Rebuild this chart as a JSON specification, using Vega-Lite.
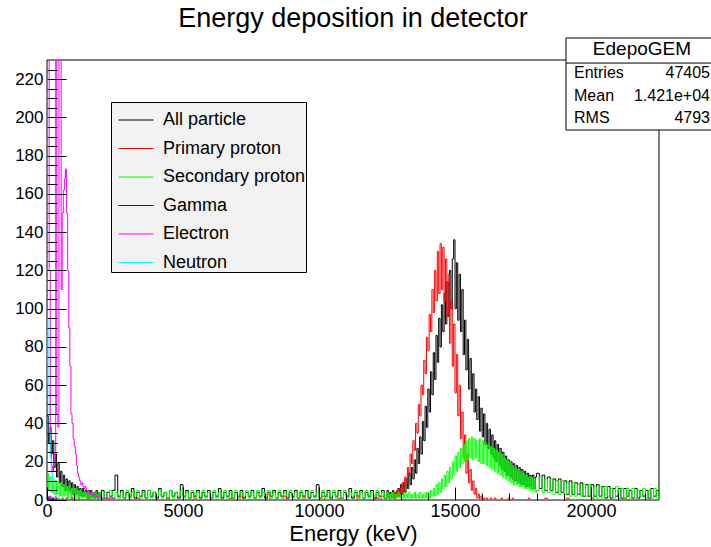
{
"$schema":"https://vega.github.io/schema/vega-lite/v6.json",
"width":612,"height":440,
"autosize":{"type":"none"},
"padding":{"left":47,"top":60,"right":52,"bottom":47},
"background":"white",
"config":{"view":{"stroke":null},"font":"Liberation Sans"},
"title":{"text":"Energy deposition in detector","fontSize":27,"fontWeight":"normal","color":"black","anchor":"middle","frame":"group","baseline":"alphabetic","offset":-16},
"resolve":{"axis":{"x":"independent","y":"independent"}},
"layer":[
{
"data":{"values":[{}]},
"mark":{"type":"rect","fill":null,"stroke":"black","strokeWidth":1},
"encoding":{"x":{"datum":0,"axis":null,"scale":{"domain":[0,22500],"nice":false,"zero":false}},"x2":{"datum":22500},"y":{"datum":0,"axis":null,"scale":{"domain":[0,230],"nice":false,"zero":false}},"y2":{"datum":230}}
},
{
"data":{"values":[
{"x":0,"a":44,"b":1,"c":14},{"x":50,"a":30,"b":0,"c":5},{"x":100,"a":38,"b":2,"c":12},{"x":150,"a":24,"b":0,"c":4},{"x":200,"a":31,"b":1,"c":11},{"x":250,"a":17,"b":0,"c":3},{"x":300,"a":24,"b":2,"c":10},{"x":350,"a":12,"b":0,"c":3},{"x":400,"a":19,"b":1,"c":9},{"x":450,"a":9,"b":0,"c":2},{"x":500,"a":15,"b":0,"c":9},{"x":550,"a":7,"b":1,"c":2},{"x":600,"a":13,"b":0,"c":8},{"x":650,"a":5,"b":0,"c":2},{"x":700,"a":11,"b":1,"c":7},{"x":750,"a":5,"b":0,"c":1},{"x":800,"a":10,"b":0,"c":7},{"x":850,"a":4,"b":0,"c":1},{"x":900,"a":9,"b":1,"c":6},{"x":950,"a":3,"b":0,"c":1},{"x":1000,"a":8,"b":0,"c":6},{"x":1050,"a":3,"b":0,"c":1},{"x":1100,"a":7,"b":0,"c":5},{"x":1150,"a":2,"b":1,"c":1},{"x":1200,"a":6,"b":0,"c":5},{"x":1250,"a":2,"b":0,"c":1},{"x":1300,"a":6,"b":0,"c":4},{"x":1350,"a":2,"b":0,"c":1},{"x":1400,"a":5,"b":0,"c":4},{"x":1450,"a":1,"b":0,"c":1},{"x":1500,"a":5,"b":1,"c":4},{"x":1550,"a":1,"b":0,"c":0},{"x":1600,"a":5,"b":0,"c":3},{"x":1650,"a":1,"b":0,"c":1},{"x":1700,"a":4,"b":0,"c":4},{"x":1750,"a":1,"b":0,"c":0},{"x":1800,"a":5,"b":0,"c":3},{"x":1850,"a":1,"b":0,"c":1},{"x":1900,"a":4,"b":0,"c":4},{"x":1950,"a":2,"b":0,"c":1},
{"x":2000,"a":5,"b":0,"c":1},{"x":2100,"a":1,"b":0,"c":4},{"x":2200,"a":4,"b":0,"c":1},{"x":2300,"a":2,"b":1,"c":5},{"x":2400,"a":5,"b":0,"c":1},{"x":2500,"a":13,"b":0,"c":4},{"x":2600,"a":2,"b":0,"c":1},{"x":2700,"a":5,"b":0,"c":4},{"x":2800,"a":1,"b":0,"c":1},{"x":2900,"a":4,"b":0,"c":5},{"x":3000,"a":2,"b":0,"c":1},{"x":3100,"a":6,"b":0,"c":4},{"x":3200,"a":1,"b":0,"c":2},{"x":3300,"a":4,"b":1,"c":5},{"x":3400,"a":2,"b":0,"c":1},{"x":3500,"a":5,"b":0,"c":4},{"x":3600,"a":1,"b":0,"c":1},{"x":3700,"a":5,"b":0,"c":5},{"x":3800,"a":2,"b":0,"c":1},{"x":3900,"a":4,"b":0,"c":4},{"x":4000,"a":1,"b":0,"c":2},{"x":4100,"a":6,"b":0,"c":5},{"x":4200,"a":2,"b":0,"c":1},{"x":4300,"a":4,"b":0,"c":4},{"x":4400,"a":1,"b":1,"c":1},{"x":4500,"a":5,"b":0,"c":5},{"x":4600,"a":2,"b":0,"c":1},{"x":4700,"a":4,"b":0,"c":4},{"x":4800,"a":1,"b":0,"c":2},{"x":4900,"a":8,"b":0,"c":5},{"x":5000,"a":2,"b":0,"c":1},{"x":5100,"a":5,"b":0,"c":4},{"x":5200,"a":1,"b":0,"c":1},{"x":5300,"a":4,"b":0,"c":5},{"x":5400,"a":2,"b":2,"c":1},{"x":5500,"a":5,"b":0,"c":4},{"x":5600,"a":1,"b":0,"c":2},{"x":5700,"a":4,"b":0,"c":5},{"x":5800,"a":2,"b":0,"c":1},{"x":5900,"a":5,"b":0,"c":4},{"x":6000,"a":1,"b":0,"c":1},{"x":6100,"a":4,"b":0,"c":5},{"x":6200,"a":2,"b":0,"c":1},{"x":6300,"a":6,"b":0,"c":4},{"x":6400,"a":1,"b":0,"c":2},{"x":6500,"a":4,"b":0,"c":5},{"x":6600,"a":2,"b":0,"c":1},{"x":6700,"a":5,"b":1,"c":4},{"x":6800,"a":1,"b":0,"c":1},{"x":6900,"a":4,"b":0,"c":5},{"x":7000,"a":2,"b":0,"c":1},{"x":7100,"a":5,"b":2,"c":4},{"x":7200,"a":1,"b":0,"c":2},{"x":7300,"a":4,"b":0,"c":5},{"x":7400,"a":2,"b":0,"c":1},{"x":7500,"a":5,"b":0,"c":4},{"x":7600,"a":1,"b":0,"c":1},{"x":7700,"a":4,"b":0,"c":5},{"x":7800,"a":2,"b":0,"c":1},{"x":7900,"a":6,"b":0,"c":4},{"x":8000,"a":1,"b":0,"c":2},{"x":8100,"a":4,"b":3,"c":5},{"x":8200,"a":2,"b":0,"c":1},{"x":8300,"a":5,"b":0,"c":4},{"x":8400,"a":1,"b":0,"c":1},{"x":8500,"a":4,"b":0,"c":5},{"x":8600,"a":2,"b":0,"c":1},{"x":8700,"a":5,"b":2,"c":4},{"x":8800,"a":1,"b":0,"c":2},{"x":8900,"a":4,"b":0,"c":5},{"x":9000,"a":2,"b":0,"c":1},{"x":9100,"a":5,"b":0,"c":4},{"x":9200,"a":1,"b":0,"c":1},{"x":9300,"a":4,"b":0,"c":5},{"x":9400,"a":2,"b":2,"c":1},{"x":9500,"a":5,"b":0,"c":4},{"x":9600,"a":1,"b":0,"c":2},{"x":9700,"a":4,"b":0,"c":5},{"x":9800,"a":2,"b":0,"c":1},{"x":9900,"a":8,"b":0,"c":4},{"x":10000,"a":1,"b":0,"c":1},{"x":10100,"a":4,"b":2,"c":5},{"x":10200,"a":2,"b":0,"c":1},{"x":10300,"a":5,"b":0,"c":4},{"x":10400,"a":1,"b":0,"c":2},{"x":10500,"a":4,"b":0,"c":5},{"x":10600,"a":2,"b":0,"c":1},{"x":10700,"a":5,"b":1,"c":4},{"x":10800,"a":1,"b":0,"c":1},{"x":10900,"a":4,"b":0,"c":5},{"x":11000,"a":2,"b":0,"c":1},{"x":11100,"a":6,"b":0,"c":4},{"x":11200,"a":1,"b":0,"c":2},{"x":11300,"a":4,"b":0,"c":5},{"x":11400,"a":2,"b":2,"c":1},{"x":11500,"a":5,"b":0,"c":4},{"x":11600,"a":1,"b":0,"c":1},{"x":11700,"a":4,"b":0,"c":5},{"x":11800,"a":2,"b":0,"c":1},{"x":11900,"a":5,"b":0,"c":4},{"x":12000,"a":1,"b":0,"c":2},{"x":12100,"a":4,"b":1,"c":5},{"x":12200,"a":2,"b":0,"c":1},{"x":12300,"a":5,"b":2,"c":4},{"x":12400,"a":1,"b":0,"c":1},
{"x":12500,"a":5,"b":0,"c":4},{"x":12550,"a":1,"b":2,"c":0},{"x":12600,"a":4,"b":0,"c":3},{"x":12650,"a":2,"b":3,"c":1},{"x":12700,"a":5,"b":1,"c":4},{"x":12750,"a":1,"b":4,"c":0},{"x":12800,"a":4,"b":1,"c":3},{"x":12850,"a":2,"b":5,"c":1},{"x":12900,"a":6,"b":2,"c":4},{"x":12950,"a":2,"b":6,"c":1},{"x":13000,"a":8,"b":3,"c":3},{"x":13050,"a":3,"b":9,"c":0},{"x":13100,"a":9,"b":5,"c":4},{"x":13150,"a":4,"b":12,"c":1},{"x":13200,"a":11,"b":9,"c":3},{"x":13250,"a":6,"b":17,"c":1},{"x":13300,"a":14,"b":13,"c":4},{"x":13350,"a":8,"b":24,"c":1},{"x":13400,"a":17,"b":19,"c":3},{"x":13450,"a":11,"b":31,"c":1},{"x":13500,"a":21,"b":26,"c":4},{"x":13550,"a":14,"b":40,"c":1},{"x":13600,"a":27,"b":35,"c":3},{"x":13650,"a":19,"b":50,"c":1},{"x":13700,"a":33,"b":44,"c":4},{"x":13750,"a":24,"b":60,"c":1},{"x":13800,"a":41,"b":55,"c":3},{"x":13850,"a":31,"b":73,"c":1},{"x":13900,"a":49,"b":66,"c":4},{"x":13950,"a":38,"b":85,"c":1},{"x":14000,"a":58,"b":78,"c":4},{"x":14050,"a":46,"b":97,"c":1},{"x":14100,"a":67,"b":88,"c":5},{"x":14150,"a":55,"b":110,"c":2},{"x":14200,"a":77,"b":98,"c":6},{"x":14250,"a":63,"b":120,"c":2},{"x":14300,"a":86,"b":104,"c":8},{"x":14350,"a":72,"b":130,"c":3},{"x":14400,"a":95,"b":108,"c":9},{"x":14450,"a":80,"b":134,"c":4},{"x":14500,"a":102,"b":110,"c":11},{"x":14550,"a":88,"b":132,"c":6},{"x":14600,"a":108,"b":104,"c":13},{"x":14650,"a":92,"b":126,"c":7},{"x":14700,"a":114,"b":96,"c":15},{"x":14750,"a":96,"b":118,"c":9},{"x":14800,"a":120,"b":82,"c":17},{"x":14850,"a":100,"b":104,"c":11},{"x":14900,"a":126,"b":70,"c":20},{"x":14950,"a":136,"b":92,"c":13},{"x":15000,"a":100,"b":56,"c":23},{"x":15050,"a":124,"b":76,"c":15},{"x":15100,"a":94,"b":44,"c":25},{"x":15150,"a":118,"b":60,"c":17},{"x":15200,"a":88,"b":32,"c":27},{"x":15250,"a":110,"b":46,"c":19},{"x":15300,"a":76,"b":22,"c":29},{"x":15350,"a":94,"b":34,"c":20},{"x":15400,"a":68,"b":14,"c":31},{"x":15450,"a":84,"b":24,"c":21},{"x":15500,"a":58,"b":9,"c":32},{"x":15550,"a":74,"b":16,"c":22},{"x":15600,"a":52,"b":5,"c":33},{"x":15650,"a":66,"b":10,"c":21},{"x":15700,"a":46,"b":3,"c":32},{"x":15750,"a":58,"b":6,"c":22},{"x":15800,"a":42,"b":1,"c":31},{"x":15850,"a":54,"b":3,"c":20},{"x":15900,"a":36,"b":0,"c":32},{"x":15950,"a":48,"b":2,"c":19},{"x":16000,"a":33,"b":0,"c":31},{"x":16050,"a":45,"b":1,"c":19},{"x":16100,"a":29,"b":0,"c":30},{"x":16150,"a":40,"b":1,"c":18},{"x":16200,"a":27,"b":0,"c":29},{"x":16250,"a":37,"b":0,"c":17},{"x":16300,"a":24,"b":1,"c":28},{"x":16350,"a":34,"b":0,"c":16},{"x":16400,"a":22,"b":0,"c":27},{"x":16450,"a":31,"b":1,"c":15},{"x":16500,"a":20,"b":0,"c":26},{"x":16550,"a":29,"b":0,"c":14},{"x":16600,"a":18,"b":0,"c":25},{"x":16650,"a":27,"b":0,"c":13},{"x":16700,"a":16,"b":1,"c":24},{"x":16750,"a":25,"b":0,"c":12},{"x":16800,"a":15,"b":0,"c":22},{"x":16850,"a":23,"b":0,"c":11},{"x":16900,"a":13,"b":0,"c":21},{"x":16950,"a":21,"b":1,"c":10},{"x":17000,"a":12,"b":0,"c":20},{"x":17050,"a":20,"b":0,"c":9},{"x":17100,"a":11,"b":1,"c":18},{"x":17150,"a":19,"b":0,"c":8},{"x":17200,"a":10,"b":0,"c":17},{"x":17250,"a":18,"b":0,"c":8},{"x":17300,"a":9,"b":0,"c":16},{"x":17350,"a":17,"b":0,"c":7},{"x":17400,"a":8,"b":0,"c":15},{"x":17450,"a":16,"b":0,"c":7},{"x":17500,"a":8,"b":0,"c":14},{"x":17550,"a":15,"b":0,"c":6},{"x":17600,"a":7,"b":0,"c":13},{"x":17650,"a":14,"b":0,"c":6},{"x":17700,"a":7,"b":1,"c":12},{"x":17750,"a":13,"b":0,"c":5},{"x":17800,"a":6,"b":0,"c":12},{"x":17850,"a":13,"b":0,"c":5},{"x":17900,"a":6,"b":0,"c":11},{"x":17950,"a":12,"b":0,"c":4},
{"x":18000,"a":14,"b":0,"c":5},{"x":18100,"a":6,"b":0,"c":12},{"x":18200,"a":13,"b":0,"c":4},{"x":18300,"a":5,"b":1,"c":11},{"x":18400,"a":12,"b":0,"c":4},{"x":18500,"a":5,"b":0,"c":11},{"x":18600,"a":11,"b":0,"c":3},{"x":18700,"a":4,"b":0,"c":10},{"x":18800,"a":11,"b":0,"c":3},{"x":18900,"a":4,"b":0,"c":10},{"x":19000,"a":10,"b":0,"c":3},{"x":19100,"a":3,"b":1,"c":9},{"x":19200,"a":10,"b":0,"c":2},{"x":19300,"a":3,"b":0,"c":9},{"x":19400,"a":9,"b":0,"c":2},{"x":19500,"a":3,"b":0,"c":8},{"x":19600,"a":9,"b":0,"c":2},{"x":19700,"a":2,"b":0,"c":8},{"x":19800,"a":8,"b":0,"c":2},{"x":19900,"a":2,"b":0,"c":8},{"x":20000,"a":8,"b":1,"c":1},{"x":20100,"a":2,"b":0,"c":7},{"x":20200,"a":8,"b":0,"c":1},{"x":20300,"a":2,"b":0,"c":7},{"x":20400,"a":7,"b":0,"c":1},{"x":20500,"a":1,"b":0,"c":7},{"x":20600,"a":7,"b":0,"c":2},{"x":20700,"a":1,"b":0,"c":6},{"x":20800,"a":6,"b":0,"c":1},{"x":20900,"a":2,"b":0,"c":7},{"x":21000,"a":6,"b":0,"c":1},{"x":21100,"a":1,"b":0,"c":6},{"x":21200,"a":6,"b":1,"c":1},{"x":21300,"a":2,"b":0,"c":6},{"x":21400,"a":5,"b":0,"c":1},{"x":21500,"a":1,"b":0,"c":6},{"x":21600,"a":6,"b":0,"c":1},{"x":21700,"a":1,"b":0,"c":5},{"x":21800,"a":5,"b":0,"c":2},{"x":21900,"a":2,"b":0,"c":6},{"x":22000,"a":5,"b":0,"c":1},{"x":22100,"a":1,"b":0,"c":5},{"x":22200,"a":6,"b":0,"c":1},{"x":22300,"a":2,"b":0,"c":6},{"x":22400,"a":5,"b":0,"c":1},{"x":22500,"a":2,"b":0,"c":5}
]},
"transform":[{"fold":["a","b","c"],"as":["k","y"]}],
"mark":{"type":"line","interpolate":"step-after","strokeWidth":1,"clip":true},
"encoding":{
"x":{"field":"x","type":"quantitative","scale":{"domain":[0,22500],"nice":false,"zero":false},
"axis":{"orient":"bottom","zindex":1,"title":"Energy (keV)","titleFontSize":22,"titleFontWeight":"normal","titleColor":"black","titlePadding":3,
"values":[0,5000,10000,15000,20000],"format":"d","labelFontSize":18,"labelColor":"black","labelPadding":2,"labelFlush":false,"labelOverlap":false,
"offset":-13,"tickSize":13,"tickColor":"black","domain":false,"grid":false}},
"y":{"field":"y","type":"quantitative","scale":{"domain":[0,230],"nice":false,"zero":false},
"axis":{"orient":"left","zindex":1,"title":null,
"values":[0,20,40,60,80,100,120,140,160,180,200,220],
"labelFontSize":17,"labelColor":"black","labelPadding":4,"labelFlush":false,"labelOverlap":false,
"offset":-19,"tickSize":19,"tickColor":"black","domain":false,"grid":false}},
"color":{"field":"k","type":"nominal",
"scale":{"domain":["a","b","c","d","e","f"],"range":["#000000","#ff0000","#00ff00","#0000ff","#ff00ff","#00ffff"]},
"legend":{"title":null,"orient":"none","legendX":64,"legendY":42,"fillColor":"#f2f2f2","strokeColor":"black","padding":0,"symbolOffset":7,
"symbolType":"stroke","symbolSize":1225,"symbolStrokeWidth":1,"labelFontSize":18,"labelColor":"black","labelOffset":9,"rowPadding":1.5,"labelLimit":300,
"labelExpr":"{'a':'All particle','b':'Primary proton','c':'Secondary proton','d':'Gamma','e':'Electron','f':'Neutron'}[datum.label]"}}
}
},
{
"data":{"values":[
{"x":0,"d":2,"e":300,"f":95},{"x":40,"d":1,"e":300,"f":60},{"x":80,"d":1,"e":120,"f":35},{"x":120,"d":0,"e":25,"f":22},{"x":160,"d":0,"e":18,"f":14},{"x":200,"d":1,"e":15,"f":9},{"x":240,"d":0,"e":20,"f":6},{"x":280,"d":0,"e":24,"f":4},{"x":320,"d":0,"e":300,"f":2},{"x":360,"d":0,"e":45,"f":1},{"x":400,"d":0,"e":38,"f":1},{"x":440,"d":0,"e":300,"f":0},{"x":480,"d":0,"e":300,"f":0},{"x":520,"d":0,"e":110,"f":0},{"x":560,"d":0,"e":150,"f":0},{"x":600,"d":0,"e":162,"f":0},{"x":640,"d":0,"e":168,"f":0},{"x":680,"d":0,"e":173,"f":0},{"x":720,"d":0,"e":150,"f":0},{"x":760,"d":0,"e":120,"f":0},{"x":800,"d":0,"e":90,"f":0},{"x":840,"d":0,"e":70,"f":0},{"x":880,"d":0,"e":45,"f":0},{"x":920,"d":0,"e":40,"f":0},{"x":960,"d":0,"e":32,"f":0},{"x":1000,"d":0,"e":28,"f":0},{"x":1040,"d":0,"e":24,"f":0},{"x":1080,"d":0,"e":18,"f":0},{"x":1120,"d":0,"e":14,"f":0},{"x":1160,"d":0,"e":12,"f":0},{"x":1200,"d":0,"e":10,"f":0},{"x":1240,"d":0,"e":8,"f":0},{"x":1280,"d":0,"e":9,"f":0},{"x":1320,"d":0,"e":7,"f":0},{"x":1360,"d":0,"e":6,"f":0},{"x":1400,"d":0,"e":7,"f":0},{"x":1440,"d":0,"e":5,"f":0},{"x":1480,"d":0,"e":4,"f":0},{"x":1520,"d":0,"e":5,"f":0},{"x":1560,"d":0,"e":3,"f":0},{"x":1600,"d":0,"e":4,"f":0},{"x":1640,"d":0,"e":3,"f":0},{"x":1680,"d":0,"e":2,"f":0},{"x":1720,"d":0,"e":3,"f":0},{"x":1760,"d":0,"e":2,"f":0},{"x":1800,"d":0,"e":2,"f":0},{"x":1840,"d":0,"e":1,"f":0},{"x":1880,"d":0,"e":2,"f":0},{"x":1920,"d":0,"e":1,"f":0},{"x":1960,"d":0,"e":1,"f":0},{"x":2000,"d":0,"e":1,"f":0},{"x":2100,"d":0,"e":0,"f":0},{"x":2200,"d":0,"e":1,"f":0},{"x":2300,"d":0,"e":0,"f":0},{"x":2400,"d":0,"e":1,"f":0},{"x":2500,"d":0,"e":0,"f":0},{"x":22500,"d":0,"e":0,"f":0}
]},
"transform":[{"fold":["d","e","f"],"as":["k","y"]}],
"mark":{"type":"line","interpolate":"step-after","strokeWidth":1,"clip":true},
"encoding":{
"x":{"field":"x","type":"quantitative",
"axis":{"orient":"bottom","zindex":1,"title":null,"labels":false,"domain":false,"grid":false,
"values":[1000,2000,3000,4000,6000,7000,8000,9000,11000,12000,13000,14000,16000,17000,18000,19000,21000,22000],
"offset":-7,"tickSize":7,"tickColor":"black"}},
"y":{"field":"y","type":"quantitative",
"axis":{"orient":"left","zindex":1,"title":null,"labels":false,"domain":false,"grid":false,
"values":[5,10,15,25,30,35,45,50,55,65,70,75,85,90,95,105,110,115,125,130,135,145,150,155,165,170,175,185,190,195,205,210,215,225],
"offset":-10,"tickSize":10,"tickColor":"black"}},
"color":{"field":"k","type":"nominal","legend":null}
}
},
{
"data":{"values":[{}]},
"mark":{"type":"rect","fill":"white","stroke":"black","strokeWidth":1,"clip":false},
"encoding":{"x":{"datum":19081,"axis":null},"x2":{"datum":24600},"y":{"datum":241.5,"axis":null},"y2":{"datum":193.4}}
},
{
"data":{"values":[{}]},
"mark":{"type":"rule","stroke":"black","strokeWidth":1},
"encoding":{"x":{"datum":19081,"axis":null},"x2":{"datum":24600},"y":{"datum":228.4,"axis":null}}
},
{
"data":{"values":[{"t":"EdepoGEM"}]},
"mark":{"type":"text","fontSize":19,"align":"center","baseline":"middle","color":"black"},
"encoding":{"x":{"datum":21873,"axis":null},"y":{"datum":235.8,"axis":null},"text":{"field":"t"}}
},
{
"data":{"values":[{"n":"Entries"}]},
"mark":{"type":"text","fontSize":16,"align":"left","baseline":"middle","color":"black"},
"encoding":{"x":{"datum":19375,"axis":null},"y":{"datum":223.2,"axis":null},"text":{"field":"n"}}
},
{
"data":{"values":[{"n":"Mean"}]},
"mark":{"type":"text","fontSize":16,"align":"left","baseline":"middle","color":"black"},
"encoding":{"x":{"datum":19375,"axis":null},"y":{"datum":211.2,"axis":null},"text":{"field":"n"}}
},
{
"data":{"values":[{"n":"RMS"}]},
"mark":{"type":"text","fontSize":16,"align":"left","baseline":"middle","color":"black"},
"encoding":{"x":{"datum":19375,"axis":null},"y":{"datum":199.7,"axis":null},"text":{"field":"n"}}
},
{
"data":{"values":[{"v":"47405"}]},
"mark":{"type":"text","fontSize":16,"align":"right","baseline":"middle","color":"black"},
"encoding":{"x":{"datum":24375,"axis":null},"y":{"datum":223.2,"axis":null},"text":{"field":"v"}}
},
{
"data":{"values":[{"v":"1.421e+04"}]},
"mark":{"type":"text","fontSize":16,"align":"right","baseline":"middle","color":"black"},
"encoding":{"x":{"datum":24375,"axis":null},"y":{"datum":211.2,"axis":null},"text":{"field":"v"}}
},
{
"data":{"values":[{"v":"4793"}]},
"mark":{"type":"text","fontSize":16,"align":"right","baseline":"middle","color":"black"},
"encoding":{"x":{"datum":24375,"axis":null},"y":{"datum":199.7,"axis":null},"text":{"field":"v"}}
}
]
}
